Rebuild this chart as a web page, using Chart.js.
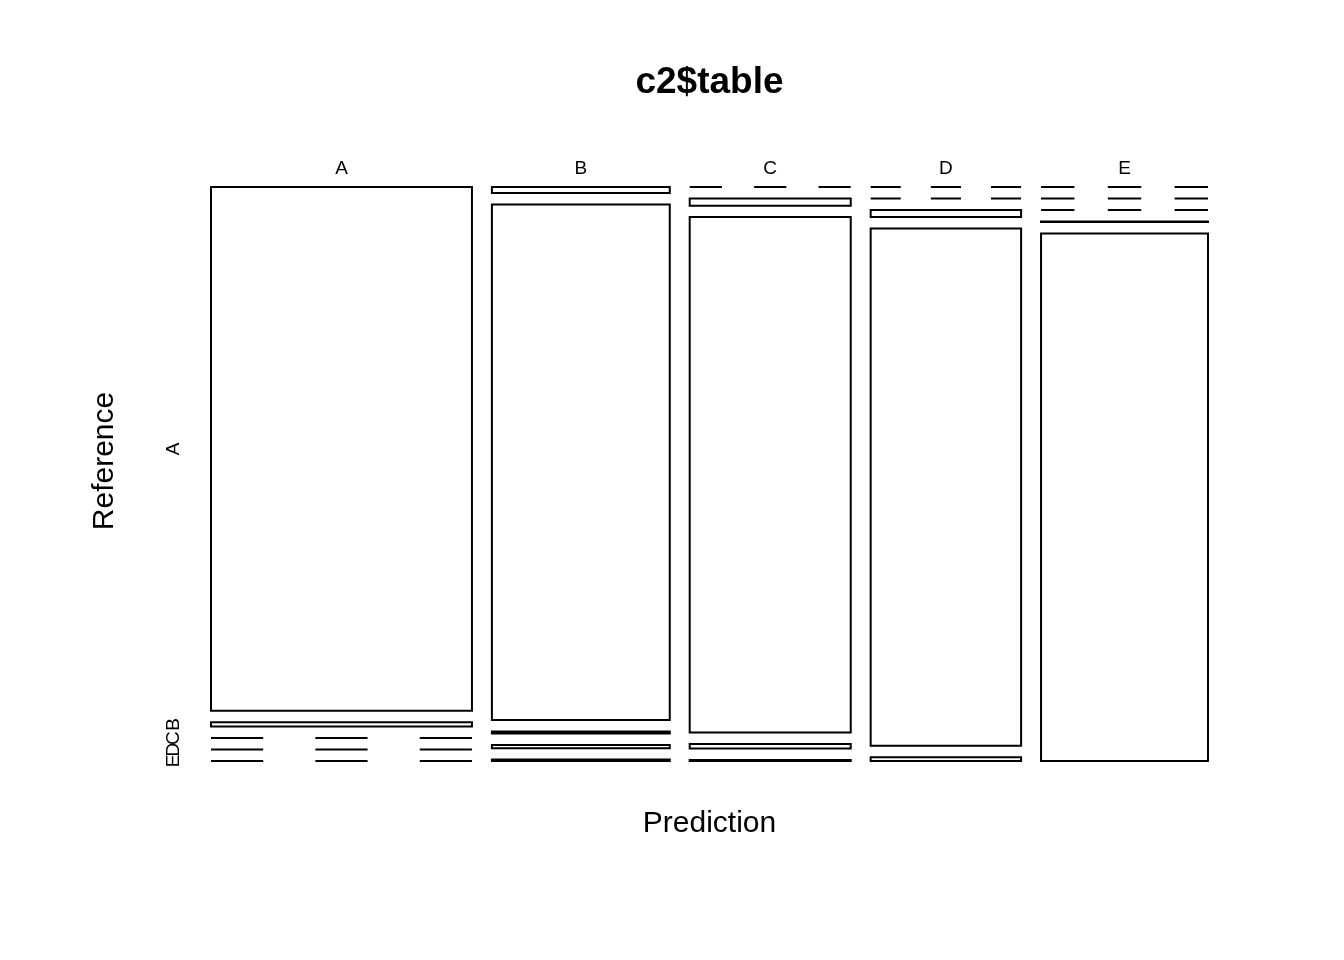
<!DOCTYPE html>
<html><head><meta charset="utf-8">
<script src="https://cdn.jsdelivr.net/npm/chart.js@4/dist/chart.umd.min.js"></script>
<style>html,body{margin:0;padding:0;background:#fff}canvas{display:block}</style>
</head><body>
<canvas id="c" width="1344" height="960"></canvas>
<script>
const chartTitle = 'c2$table';
const xAxisTitle = 'Prediction';
const yAxisTitle = 'Reference';
const predictionLevels = ['A', 'B', 'C', 'D', 'E'];
const referenceLevels = ['A', 'B', 'C', 'D', 'E'];
// counts of Reference A..E for each Prediction level
const predictedA = [1660, 14, 0, 0, 0];
const predictedB = [13, 1114, 4, 7, 3];
const predictedC = [0, 14, 1008, 9, 2];
const predictedD = [0, 0, 13, 945, 7];
const predictedE = [0, 0, 0, 1, 1070];
const counts = [predictedA, predictedB, predictedC, predictedD, predictedE];

const GAP = 0.02;
const FONT = '"Liberation Sans", Arial, sans-serif';

// mosaic layout in data units (0..1 both directions)
const colTotals = counts.map(c => c.reduce((a, b) => a + b, 0));
const grand = colTotals.reduce((a, b) => a + b, 0);
const nCol = counts.length;
const cells = [];
const colCenters = [];
let xc = 0;
counts.forEach((col, i) => {
  const w = (1 - GAP * (nCol - 1)) * colTotals[i] / grand;
  const x0 = xc, x1 = xc + w;
  colCenters.push((x0 + x1) / 2);
  let yc = 0;
  const nRow = col.length;
  col.forEach((n, j) => {
    const h = (1 - GAP * (nRow - 1)) * n / colTotals[i];
    cells.push({ i, j, n, x0, x1, y0: yc, y1: yc + h });
    yc += h + GAP;
  });
  xc = x1 + GAP;
});
const rowCenters = cells.filter(c => c.i === 0).map(c => (c.y0 + c.y1) / 2);

const datasets = cells.map(c => {
  let data;
  if (c.n > 0) {
    data = [
      { x: c.x0, y: c.y0 }, { x: c.x1, y: c.y0 }, { x: c.x1, y: c.y1 },
      { x: c.x0, y: c.y1 }, { x: c.x0, y: c.y0 }, { x: c.x1, y: c.y0 }
    ];
  } else {
    const f = k => c.x0 + (c.x1 - c.x0) * k / 5;
    data = [
      { x: f(0), y: c.y0 }, { x: f(1), y: c.y0 }, { x: f(1.5), y: null },
      { x: f(2), y: c.y0 }, { x: f(3), y: c.y0 }, { x: f(3.5), y: null },
      { x: f(4), y: c.y0 }, { x: f(5), y: c.y0 }
    ];
  }
  return {
    data, showLine: true, spanGaps: false, pointRadius: 0, pointHoverRadius: 0,
    borderColor: '#000', borderWidth: 2, borderJoinStyle: 'miter',
    borderCapStyle: 'butt', fill: false, tension: 0, clip: false
  };
});

const textPlugin = {
  id: 'mosaicText',
  afterDraw(chart) {
    const ctx = chart.ctx, xs = chart.scales.x, ys = chart.scales.y, a = chart.chartArea;
    ctx.save();
    ctx.fillStyle = '#000';
    ctx.textAlign = 'center';
    ctx.textBaseline = 'alphabetic';
    ctx.font = 'bold 37px ' + FONT;
    ctx.fillText(chartTitle, (a.left + a.right) / 2, 93);
    ctx.font = '30px ' + FONT;
    ctx.fillText(xAxisTitle, (a.left + a.right) / 2, 832);
    ctx.save();
    ctx.translate(113, 461);
    ctx.rotate(-Math.PI / 2);
    ctx.fillText(yAxisTitle, 0, 0);
    ctx.restore();
    ctx.font = '19px ' + FONT;
    predictionLevels.forEach((l, i) => {
      ctx.fillText(l, xs.getPixelForValue(colCenters[i]), 174);
    });
    referenceLevels.forEach((l, j) => {
      ctx.save();
      ctx.translate(179, ys.getPixelForValue(rowCenters[j]));
      ctx.rotate(-Math.PI / 2);
      ctx.fillText(l, 0, 0);
      ctx.restore();
    });
    ctx.restore();
  }
};

new Chart(document.getElementById('c'), {
  type: 'scatter',
  data: { datasets },
  options: {
    responsive: false,
    animation: false,
    devicePixelRatio: 1,
    layout: { padding: { left: 211, right: 136, top: 187, bottom: 199 } },
    plugins: { legend: { display: false }, tooltip: { enabled: false }, title: { display: false } },
    scales: {
      x: { type: 'linear', min: 0, max: 1, display: false },
      y: { type: 'linear', min: 0, max: 1, reverse: true, display: false }
    }
  },
  plugins: [textPlugin]
});
</script>
</body></html>
